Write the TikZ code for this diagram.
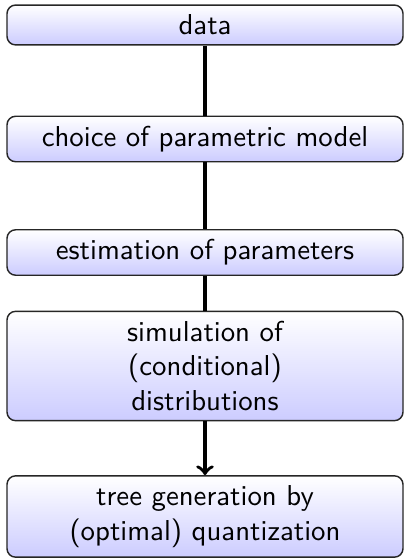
\documentclass[tikz,border=0pt]{standalone}
\usetikzlibrary{arrows}
\begin{document}
\begin{tikzpicture}[x=0.3472pt, y=-0.3472pt,
  stepbox/.style={draw=black!85, line width=0.5pt, rounded corners=3pt,
    top color=white, bottom color=blue!20,
    minimum width=137.5pt, inner sep=3.4pt, align=center,
    font=\sffamily},
  link/.style={line width=1.2pt}]
  \useasboundingbox (0,0) rectangle (404,558);
  \node[stepbox] (data) at (205,25) {data};
  \node[stepbox] (model) at (205,139) {choice of parametric model};
  \node[stepbox] (est) at (205,252.5) {estimation of parameters};
  \node[stepbox] (sim) at (205,366) {simulation of\\(conditional)\\distributions};
  \node[stepbox] (tree) at (205,516.5) {tree generation by\\(optimal) quantization};
  \draw[link] (data) -- (model);
  \draw[link] (model) -- (est);
  \draw[link] (est) -- (sim);
  \draw[link,->] (sim) -- (tree);
\end{tikzpicture}
\end{document}
